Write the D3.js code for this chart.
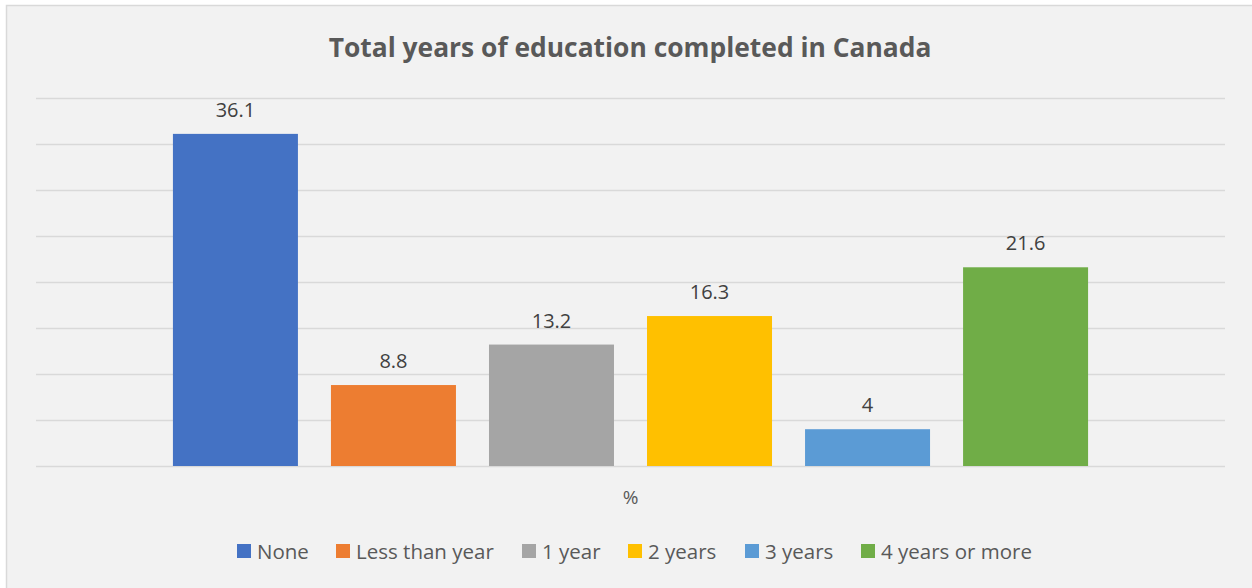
<!DOCTYPE html>
<html>
<head>
<meta charset="UTF-8">
<title>Total years of education completed in Canada</title>
<script src="https://d3js.org/d3.v7.min.js"></script>
<style>
    body { margin: 0; background: #fff; }
    svg { display: block; font-family: "Open Sans", "Noto Sans", sans-serif; }
</style>
</head>
<body>
<svg width="1252" height="588"></svg>
<script>
    // 数据
    var category = ["%"];
    var series = ["None", "Less than year", "1 year", "2 years", "3 years", "4 years or more"];
    var values = [36.1, 8.8, 13.2, 16.3, 4, 21.6];
    var yTicks = [0, 5, 10, 15, 20, 25, 30, 35, 40];
    var colors = ["#4472C4", "#ED7D31", "#A5A5A5", "#FFC000", "#5B9BD5", "#70AD47"];

    var svg = d3.select("svg");
    var width = +svg.attr("width"),
        height = +svg.attr("height");
    var plot = { left: 36, right: 1225, top: 98, bottom: 466 };

    // 背景和边框
    svg.append("rect")
        .attr("x", 6.5).attr("y", 5.5)
        .attr("width", width).attr("height", height)
        .attr("fill", "#F2F2F2")
        .attr("stroke", "#D9D9D9")
        .attr("stroke-width", 1.5);

    // 标题
    svg.append("text")
        .attr("x", 630).attr("y", 57)
        .attr("text-anchor", "middle")
        .attr("font-size", "26.4px")
        .attr("font-weight", "bold")
        .attr("fill", "#595959")
        .text("Total years of education completed in Canada");

    var y = d3.scaleLinear().domain([0, 40]).range([plot.bottom, plot.top]);
    var x0 = d3.scaleBand().domain(category).range([plot.left, plot.right]).paddingOuter(0.127);
    var x1 = d3.scaleBand().domain(series).range([0, x0.bandwidth()]).paddingInner(0.209).paddingOuter(0.1045);

    // 网格线
    var yAxis = d3.axisLeft(y).tickValues(yTicks).tickSize(-(plot.right - plot.left)).tickFormat("");
    var grid = svg.append("g")
        .attr("transform", "translate(" + plot.left + ",0)")
        .call(yAxis);
    grid.select(".domain").remove();
    grid.selectAll(".tick line").attr("stroke", "#D9D9D9").attr("stroke-width", 1.5);

    // 柱
    var bars = svg.append("g")
        .attr("transform", "translate(" + x0("%") + ",0)");
    bars.selectAll("rect")
        .data(values)
        .enter().append("rect")
        .attr("x", function(d, i) { return x1(series[i]); })
        .attr("y", function(d) { return y(d); })
        .attr("width", x1.bandwidth())
        .attr("height", function(d) { return y(0) - y(d); })
        .attr("fill", function(d, i) { return colors[i]; });

    bars.selectAll("text")
        .data(values)
        .enter().append("text")
        .attr("x", function(d, i) { return x1(series[i]) + x1.bandwidth() / 2; })
        .attr("y", function(d) { return y(d) - 17; })
        .attr("text-anchor", "middle")
        .attr("font-size", "20px")
        .attr("fill", "#404040")
        .text(function(d) { return d; });

    // x轴标签
    svg.append("text")
        .attr("x", x0("%") + x0.bandwidth() / 2)
        .attr("y", 504)
        .attr("text-anchor", "middle")
        .attr("font-size", "19px")
        .attr("fill", "#595959")
        .text(category[0]);

    // 图例
    var legendX = [237, 336, 522, 628, 745, 861];
    var legend = svg.append("g").selectAll("g")
        .data(series)
        .enter().append("g")
        .attr("transform", function(d, i) { return "translate(" + legendX[i] + ",544)"; });
    legend.append("rect")
        .attr("width", 14).attr("height", 14)
        .attr("fill", function(d, i) { return colors[i]; });
    legend.append("text")
        .attr("x", 20).attr("y", 14.5)
        .attr("font-size", "20.5px")
        .attr("fill", "#595959")
        .text(function(d) { return d; });
</script>
</body>
</html>
